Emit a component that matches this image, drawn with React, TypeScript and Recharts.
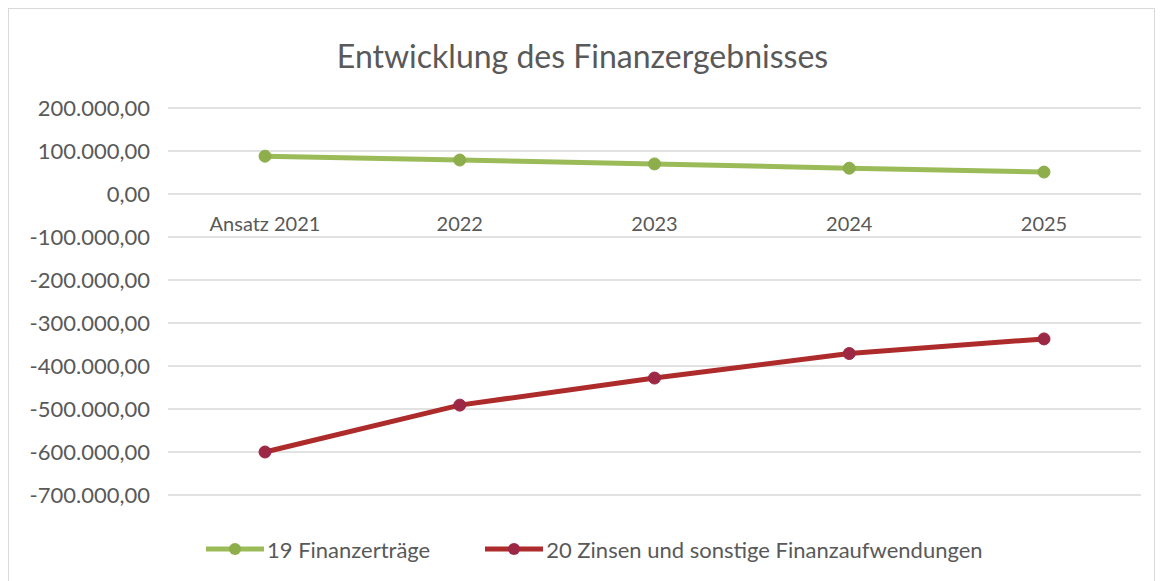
import React from "react";
import { LineChart, Line, XAxis, YAxis, CartesianGrid, Legend } from "recharts";

const categories = ["Ansatz 2021", "2022", "2023", "2024", "2025"];
const finanzertraege = [88000, 79000, 70000, 60000, 51000];
const zinsen = [-600000, -491000, -428000, -371000, -337000];
const yTicks = [200000, 100000, 0, -100000, -200000, -300000, -400000, -500000, -600000, -700000];
const seriesNames = ["19 Finanzerträge", "20 Zinsen und sonstige Finanzaufwendungen"];

const data = categories.map((c, i) => ({ name: c, a: finanzertraege[i], b: zinsen[i] }));

const W = 1147;
const H = 570;
const LEGEND_H = 30;
const XAXIS_H = 1;
const MARGIN = { top: 99, right: 15, left: 0, bottom: 53 };
const Y_MIN = -700000;
const Y_MAX = 200000;
const FONT = "Lato, 'Open Sans', sans-serif";
const TEXT = "#595959";
const GREEN = "#9BBB59";
const GREEN_DOT = "#8DAE4B";
const RED = "#AE2B2B";
const RED_DOT = "#9C2845";

function fmt(v: number): string {
  const neg = v < 0;
  const s = Math.abs(Math.round(v)).toString().replace(/\B(?=(\d{3})+(?!\d))/g, ".");
  return (neg ? "-" : "") + s + ",00";
}

const PLOT_H = H - MARGIN.top - MARGIN.bottom - LEGEND_H - XAXIS_H;

function XTick(props: any) {
  const { x, payload } = props;
  const zeroY = MARGIN.top + (PLOT_H * Y_MAX) / (Y_MAX - Y_MIN);
  return (
    <text x={x} y={zeroY + 32} textAnchor="middle" dominantBaseline="middle" fill={TEXT} fontSize={20} fontFamily={FONT}>
      {payload.value}
    </text>
  );
}

function LegendContent(props: any) {
  const { payload } = props;
  return (
    <div style={{ display: "flex", justifyContent: "flex-start", paddingLeft: 197, alignItems: "center", height: LEGEND_H, fontFamily: FONT, fontSize: 22, color: TEXT }}>
      {payload.map((p: any, i: number) => (
        <div key={i} style={{ display: "flex", alignItems: "center", marginRight: 55 }}>
          <svg width={58} height={16} style={{ marginRight: 3 }}>
            <line x1={0} y1={8} x2={58} y2={8} stroke={p.color} strokeWidth={5} />
            <circle cx={29} cy={8} r={6} fill={i === 0 ? GREEN_DOT : RED_DOT} />
          </svg>
          <span>{p.value}</span>
        </div>
      ))}
    </div>
  );
}

export default function App() {
  return (
    <div style={{ width: W, height: 580, border: "1px solid #d9d9d9", boxSizing: "border-box", position: "relative", background: "#fff" }}>
      <div style={{ position: "absolute", top: 27, left: 0, width: W, textAlign: "center", fontFamily: FONT, fontSize: 32, color: TEXT }}>
        Entwicklung des Finanzergebnisses
      </div>
      <LineChart width={W} height={H} data={data} margin={MARGIN}>
        <CartesianGrid vertical={false} stroke="#d9d9d9" strokeWidth={1.5} />
        <XAxis
          dataKey="name"
          axisLine={false}
          tickLine={false}
          height={XAXIS_H}
          tick={<XTick />}
          interval={0}
          padding={{ left: 97, right: 97 }}
        />
        <YAxis
          width={159}
          domain={[Y_MIN, Y_MAX]}
          ticks={yTicks}
          interval={0}
          axisLine={false}
          tickLine={false}
          tickFormatter={fmt}
          tick={{ fill: TEXT, fontSize: 22, fontFamily: FONT }}
          tickMargin={12}
        />
        <Legend verticalAlign="bottom" height={LEGEND_H} wrapperStyle={{ top: 525, bottom: "auto" }} content={<LegendContent />} />
        <Line
          dataKey="a"
          name={seriesNames[0]}
          stroke={GREEN}
          strokeWidth={5}
          dot={{ r: 6, fill: GREEN_DOT, stroke: GREEN_DOT, strokeWidth: 1 }}
          isAnimationActive={false}
        />
        <Line
          dataKey="b"
          name={seriesNames[1]}
          stroke={RED}
          strokeWidth={5}
          dot={{ r: 6, fill: RED_DOT, stroke: RED_DOT, strokeWidth: 1 }}
          isAnimationActive={false}
        />
      </LineChart>
    </div>
  );
}
